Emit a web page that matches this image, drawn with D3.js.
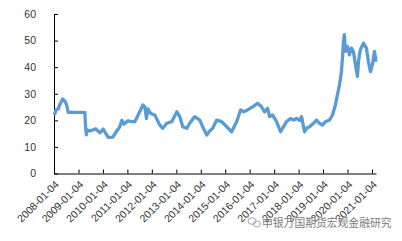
<!DOCTYPE html>
<html lang="en">
<head>
  <meta charset="UTF-8" />
  <title>Weekly series 2008-2021</title>
  <script src="https://d3js.org/d3.v7.min.js"></script>
  <style>
    body { margin: 0; background: #fff; }
    svg { display: block; font-family: 'Liberation Sans', Arial, sans-serif; }
  </style>
</head>
<body>
  <div id="chart"></div>
  <script>
    // values
    const dates = [
      "2008-01-04", "2008-01-19", "2008-02-02", "2008-03-08", "2008-04-01", "2008-05-12", "2008-06-16", "2008-07-08",
      "2008-08-04", "2008-11-12", "2009-04-09", "2009-04-16", "2009-04-24", "2009-05-01", "2009-05-08", "2009-06-22",
      "2009-09-20", "2009-11-19", "2010-01-08", "2010-02-17", "2010-03-23", "2010-06-01", "2010-07-15", "2010-09-13",
      "2010-10-13", "2010-11-12", "2011-01-11", "2011-03-11", "2011-04-25", "2011-07-08", "2011-08-22", "2011-09-21",
      "2011-10-16", "2011-11-05", "2011-12-19", "2012-02-17", "2012-05-02", "2012-06-16", "2012-08-14", "2012-10-28",
      "2013-01-11", "2013-02-25", "2013-04-10", "2013-06-09", "2013-07-23", "2013-10-06", "2013-12-20", "2014-02-02",
      "2014-04-03", "2014-05-18", "2014-07-01", "2014-08-30", "2014-11-12", "2015-01-26", "2015-04-10", "2015-06-24",
      "2015-08-22", "2015-10-06", "2015-12-04", "2016-02-17", "2016-05-02", "2016-06-30", "2016-08-14", "2016-09-28",
      "2016-10-28", "2016-12-11", "2017-02-09", "2017-04-09", "2017-05-24", "2017-07-08", "2017-09-06", "2017-10-21",
      "2017-12-04", "2018-01-18", "2018-02-17", "2018-03-03", "2018-04-03", "2018-05-03", "2018-06-17", "2018-08-15",
      "2018-09-29", "2018-11-12", "2018-12-27", "2019-02-09", "2019-04-10", "2019-05-25", "2019-07-08", "2019-08-06",
      "2019-09-06", "2019-10-06", "2019-10-21", "2019-11-05", "2019-11-19", "2019-12-04", "2020-01-04", "2020-02-02",
      "2020-03-03", "2020-04-02", "2020-05-02", "2020-06-01", "2020-06-16", "2020-07-15", "2020-08-29", "2020-10-13",
      "2020-11-12", "2020-12-12", "2021-01-11", "2021-02-10", "2021-02-25", "2021-03-05"
    ];
    const values = [
      23, 22.5, 24, 24.3, 26, 28, 27.2, 26,
      23, 23, 23, 19, 16.3, 14.5, 16.5, 16,
      16.8, 15.3, 16.7, 15, 13.6, 13.7, 15.5, 17.6,
      20, 18.5, 19.8, 19.5, 19.5, 23.2, 25.8, 25.1,
      20.7, 24.3, 22.6, 22, 18.2, 17, 18.9, 19.5,
      23.2, 21.4, 17.6, 17, 18.9, 21.4, 20.1, 17.6,
      14.5, 16, 17, 20.1, 19.5, 17.6, 15.7, 19.5,
      23.9, 23.2, 23.9, 25.1, 26.4, 25.1, 23.2, 24.5,
      21.4, 22, 19.5, 15.7, 17.6, 19.5, 20.7, 20.1,
      20.7, 20, 21.4, 19.5, 15.7, 17, 17.6, 18.9,
      20.1, 18.9, 18.2, 19.5, 20.1, 22, 25.8, 29.5,
      33.3, 38.3, 43.4, 49.7, 52.2, 45.9, 47.8, 44.6,
      47.2, 45.9, 40.9, 36.5, 42.1, 46.6, 49, 47.2,
      42.1, 38.3, 40.9, 45.9, 43.4, 42
    ];
    const yTicks = [0, 10, 20, 30, 40, 50, 60];
    const xTickLabels = [
      "2008-01-04", "2009-01-04", "2010-01-04", "2011-01-04", "2012-01-04", "2013-01-04", "2014-01-04",
      "2015-01-04", "2016-01-04", "2017-01-04", "2018-01-04", "2019-01-04", "2020-01-04", "2021-01-04"
    ];
    const watermark = "申银万国期货宏观金融研究";

    const width = 402, height = 241;
    const plotLeft = 54, plotRight = 376, plotTop = 14, plotBottom = 173.5;
    const parse = d3.timeParse("%Y-%m-%d");
    const data = dates.map((d, i) => ({ date: parse(d), value: values[i] }));

    const svg = d3.select("#chart").append("svg")
      .attr("width", width)
      .attr("height", height);

    const x = d3.scaleTime()
      .domain([parse("2008-01-04"), parse("2021-03-05")])
      .range([plotLeft, plotRight]);
    const y = d3.scaleLinear().domain([0, 60]).range([plotBottom, plotTop]);

    // y axis, ticks pointing inward
    const yAxis = svg.append("g")
      .attr("transform", `translate(${plotLeft},0)`)
      .call(d3.axisLeft(y).tickValues(yTicks).tickSize(-4).tickPadding(18).tickSizeOuter(0));
    yAxis.select(".domain").attr("stroke", "#000");
    yAxis.selectAll(".tick line").attr("stroke", "#000");
    yAxis.selectAll("text").attr("font-size", "10.5px").attr("fill", "#333");

    // x axis
    const xAxis = svg.append("g")
      .attr("transform", `translate(0,${plotBottom})`)
      .call(d3.axisBottom(x).tickValues(xTickLabels.map(parse)).tickSize(-4).tickSizeOuter(0).tickFormat(""));
    xAxis.select(".domain").attr("stroke", "#000");
    xAxis.selectAll(".tick line").attr("stroke", "#000");

    svg.append("g").selectAll("text")
      .data(xTickLabels)
      .join("text")
      .attr("transform", d => `translate(${x(parse(d)) + 3},${plotBottom + 9}) rotate(-45)`)
      .attr("text-anchor", "end")
      .attr("dy", "0.35em")
      .attr("font-size", "10.5px")
      .attr("fill", "#333")
      .text(d => d);

    const line = d3.line()
      .x(d => x(d.date))
      .y(d => y(d.value));

    svg.append("path")
      .datum(data)
      .attr("fill", "none")
      .attr("stroke", "#5b9bd5")
      .attr("stroke-width", 3.3)
      .attr("stroke-linejoin", "round")
      .attr("d", line);

    // watermark
    const wm = svg.append("g").attr("opacity", 0.85);
    wm.append("ellipse").attr("cx", 252).attr("cy", 221).attr("rx", 4).attr("ry", 3.3)
      .attr("fill", "none").attr("stroke", "#999");
    wm.append("ellipse").attr("cx", 257).attr("cy", 224).attr("rx", 3.5).attr("ry", 3)
      .attr("fill", "none").attr("stroke", "#999");
    wm.append("text")
      .attr("x", 262).attr("y", 227)
      .attr("font-family", "'Noto Sans CJK SC', sans-serif")
      .attr("font-size", "10.8px")
      .attr("fill", "#666")
      .attr("stroke", "#fff").attr("stroke-width", 0.6).attr("paint-order", "stroke")
      .text(watermark);
  </script>
</body>
</html>
